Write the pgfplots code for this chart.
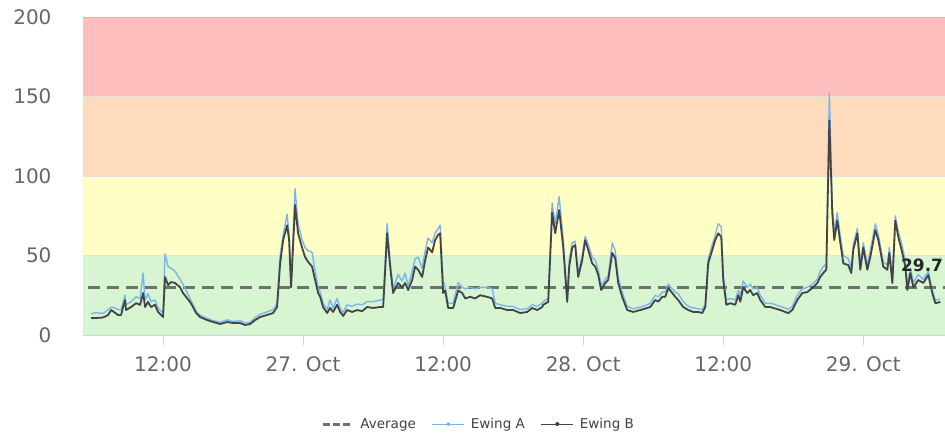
\documentclass[border=0pt]{standalone}
\usepackage{pgfplots}
\pgfplotsset{compat=1.18}
\usepackage{fontspec}
\setmainfont{DejaVu Sans}
\definecolor{bandred}{RGB}{255,190,190}
\definecolor{bandorange}{RGB}{253,219,188}
\definecolor{bandyellow}{RGB}{255,254,196}
\definecolor{bandgreen}{RGB}{214,245,208}
\definecolor{gridc}{RGB}{228,228,232}
\definecolor{topline}{RGB}{240,168,176}
\definecolor{axisc}{RGB}{204,214,235}
\definecolor{ticktext}{RGB}{102,102,102}
\definecolor{serA}{RGB}{124,181,236}
\definecolor{serB}{RGB}{67,67,72}
\definecolor{avgc}{RGB}{112,112,112}
\pgfplotsset{
  avglegend/.style={legend image code/.code={\draw[##1, dash pattern=on 7pt off 3pt] (0pt,0pt) -- (30pt,0pt);}},
  serlegend/.style={legend image code/.code={\draw[##1, line width=1pt] (0pt,0pt) -- (32pt,0pt); \fill[##1] (16pt,0pt) circle (1.3pt);}},
}
\begin{document}
\begin{tikzpicture}
\path[use as bounding box] (-83pt,-105pt) rectangle (862pt,335pt);
\begin{axis}[
  at={(0pt,0pt)}, anchor=south west,
  scale only axis, width=862pt, height=318pt,
  xmin=5.14, xmax=79, ymin=0, ymax=200,
  axis x line*=bottom, axis y line*=left,
  x axis line style={draw=axisc, line width=1pt, -},
  y axis line style={draw=none},
  xtick={12,24,36,48,60,72},
  xticklabels={12:00,27. Oct,12:00,28. Oct,12:00,29. Oct},
  ytick={0,50,100,150,200},
  tick align=outside,
  major tick length=10pt,
  xtick style={draw=axisc, line width=1pt},
  ytick style={draw=none},
  /pgf/number format/assume math mode=true,
  tick label style={font=\fontsize{20}{20}\selectfont, text=ticktext},
  yticklabel style={xshift=-18pt},
  xticklabel style={yshift=-8pt},
  legend style={at={(0.459,-0.280)}, anchor=center, draw=none, fill=none,
    font=\fontsize{13.5}{14}\selectfont, text=black!75,
    /tikz/every odd column/.append style={column sep=4pt},
    /tikz/every even column/.append style={column sep=14pt}},
  legend columns=-1,
  clip=true,
]
\fill[bandgreen] (axis cs:5.14,0) rectangle (axis cs:79,50);
\fill[bandyellow] (axis cs:5.14,50) rectangle (axis cs:79,100);
\fill[bandorange] (axis cs:5.14,100) rectangle (axis cs:79,150);
\fill[bandred] (axis cs:5.14,150) rectangle (axis cs:79,200);
\draw[gridc, line width=1pt] (axis cs:5.14,50) -- (axis cs:79,50);
\draw[gridc, line width=1pt] (axis cs:5.14,100) -- (axis cs:79,100);
\draw[gridc, line width=1pt] (axis cs:5.14,150) -- (axis cs:79,150);
\draw[topline, line width=1.5pt] (axis cs:5.14,199.6) -- (axis cs:79,199.6);

\addplot[avgc, line width=3pt, dash pattern=on 12pt off 7pt, avglegend]
  table {
5.57 29.7
79 29.7
};
\addlegendentry{Average}

\addplot[serA, line width=1.4pt, line join=round, serlegend]
  table {
5.83 13.5
6.26 14
6.86 13.5
7.29 16
7.55 17.5
7.89 17
8.14 16
8.40 16
8.74 25
8.83 19
9.26 21
9.69 24
10.03 23
10.29 39
10.46 22
10.71 26
10.97 21
11.31 22
11.57 17
11.83 15
12.0 14
12.17 51
12.43 43
12.69 42
13.03 40
13.46 35
13.71 32
13.97 28
14.31 23
14.57 19
14.83 15
15.17 12.5
15.77 10.5
16.29 9
16.89 8
17.49 9.5
18.0 8.5
18.6 9
19.03 7.5
19.46 8
19.89 11
20.31 13
20.91 14.5
21.43 16
21.77 20
22.03 50
22.29 63
22.63 76
22.8 63
22.97 31
23.31 92
23.57 70
23.91 60
24.17 55
24.43 53
24.77 52
25.03 40
25.29 30
25.46 27
25.71 20
26.06 16
26.31 22
26.57 17
26.91 23
27.17 17
27.43 14
27.77 19
28.2 18
28.63 19.5
29.06 19
29.49 21
30.0 21
30.6 22
30.86 22
31.2 70
31.46 46
31.71 29
32.14 38
32.49 34
32.74 39
33.0 31
33.34 40
33.6 48
33.86 49
34.2 42
34.46 53
34.71 61
35.06 58
35.31 64
35.57 67
35.74 69
36.0 34
36.17 30
36.43 20
36.86 20
37.29 33
37.63 30
37.89 29
38.31 30
38.74 29
39.17 30
39.77 30
40.2 29
40.46 20
40.89 19
41.49 18
42.0 18
42.6 16
43.2 16.5
43.63 19
44.06 18
44.49 20
44.57 21
45.0 23
45.34 83
45.6 70
45.94 87
46.29 60
46.63 22
46.8 47
47.06 58
47.31 59
47.57 39
47.91 50
48.17 62
48.43 57
48.77 49
49.03 47
49.29 41
49.54 31
49.89 35
50.14 37
50.49 58
50.74 53
51.0 36
51.34 27
51.77 18
52.29 16.5
52.89 17.5
53.49 19
53.74 20
54.17 25
54.43 24
54.77 27
55.03 27
55.29 32
55.63 29
55.89 27
56.14 26
56.57 21
57.0 18
57.43 17
57.86 16.5
58.2 16
58.46 19.5
58.71 48
59.06 57
59.31 63
59.57 70
59.83 68
60.0 38
60.26 22
60.6 23
61.03 22
61.29 28
61.46 25
61.71 34
62.06 30
62.31 32
62.57 29
62.91 30
63.17 25
63.6 20
64.03 20
64.29 19.5
64.89 18
65.31 17
65.57 16
65.91 18
66.34 25
66.77 29
67.2 30
67.63 32
68.06 35
68.31 40
68.57 43
68.83 45
69.09 152
69.34 82
69.51 65
69.77 77
70.03 62
70.29 50
70.71 48
70.97 42
71.14 57
71.49 67
71.74 45
72.0 58
72.34 44
72.6 53
73.03 70
73.29 63
73.71 46
74.06 44
74.23 55
74.49 36
74.74 75
75.0 65
75.34 56
75.6 46
75.77 31
76.03 42
76.29 33
76.71 38
77.14 35
77.57 40
77.91 28
78.17 22
78.6 22.5
};
\addlegendentry{Ewing A}

\addplot[serB, line width=1.8pt, line join=round, serlegend]
  table {
5.83 10.7
6.26 10.7
6.86 11
7.29 12.6
7.55 15.7
7.89 14
8.14 12.6
8.40 12.6
8.74 22
8.83 15.7
9.26 17.6
9.69 20
10.03 19
10.29 26.4
10.46 17.6
10.71 20.8
10.97 17.6
11.31 19
11.57 14.5
11.83 12.6
12.0 11.3
12.17 36.5
12.43 31.4
12.69 33.3
13.03 32.7
13.46 30
13.71 26.4
13.97 24
14.31 20.8
14.57 17.6
14.83 13.8
15.17 11.3
15.77 9.4
16.29 8.2
16.89 6.9
17.49 8.2
18.0 7.5
18.6 7.5
19.03 6.3
19.46 6.9
19.89 9.4
20.31 11.3
20.91 12.6
21.43 13.8
21.77 17.6
22.03 45
22.29 59.7
22.63 69
22.8 59.7
22.97 30
23.31 81.8
23.57 64
23.91 55
24.17 49
24.43 46
24.77 43
25.03 34.6
25.29 26.4
25.46 24
25.71 17.6
26.06 13.8
26.31 17
26.57 14.5
26.91 19
27.17 14.5
27.43 12
27.77 15.7
28.2 14.5
28.63 15.7
29.06 15
29.49 17.6
30.0 17
30.6 17.6
30.86 17.6
31.2 64
31.46 43
31.71 26.4
32.14 32.7
32.49 30
32.74 32.7
33.0 28.3
33.34 34.6
33.6 43
33.86 41
34.2 36.5
34.46 47
34.71 55
35.06 52
35.31 59.7
35.57 63
35.74 64
36.0 26.4
36.17 28
36.43 17
36.86 17
37.29 28
37.63 26.4
37.89 23
38.31 24
38.74 23
39.17 25
39.77 24
40.2 23
40.46 17
40.89 17
41.49 15.7
42.0 15.7
42.6 13.8
43.2 14.5
43.63 17
44.06 15.7
44.49 17.6
44.57 19
45.0 20.8
45.34 77
45.6 64
45.94 78.6
46.29 55
46.63 20.8
46.8 43
47.06 55
47.31 56.6
47.57 36.5
47.91 47
48.17 59.7
48.43 53.5
48.77 45
49.03 43
49.29 37.7
49.54 28.3
49.89 32.7
50.14 34.6
50.49 51.6
50.74 48.4
51.0 32.7
51.34 24
51.77 15.7
52.29 14.5
52.89 15.7
53.49 17
53.74 17.6
54.17 22
54.43 21
54.77 24
55.03 24
55.29 29.6
55.63 26.4
55.89 24
56.14 22
56.57 17.6
57.0 15.7
57.43 14.5
57.86 14.5
58.2 13.8
58.46 17.6
58.71 45
59.06 53.5
59.31 59.7
59.57 64
59.83 61.6
60.0 34.6
60.26 19
60.6 20
61.03 19
61.29 25
61.46 21
61.71 30
62.06 26.4
62.31 28.3
62.57 25
62.91 26.4
63.17 22
63.6 17.6
64.03 17.6
64.29 17
64.89 15.7
65.31 14.5
65.57 13.8
65.91 15.7
66.34 22
66.77 26.4
67.2 27
67.63 29.6
68.06 32.7
68.31 36.5
68.57 39
68.83 41
69.09 135
69.34 76.7
69.51 59.7
69.77 72
70.03 58
70.29 45
70.71 44
70.97 39
71.14 53.5
71.49 64
71.74 41
72.0 55
72.34 41
72.6 49
73.03 66
73.29 59.7
73.71 43
74.06 41
74.23 51.6
74.49 32.7
74.74 72
75.0 61.6
75.34 51.6
75.6 43
75.77 28.3
76.03 39
76.29 30
76.71 34.6
77.14 32.7
77.57 37.7
77.91 26.4
78.17 20
78.6 20.8
};
\addlegendentry{Ewing B}

\coordinate (lab) at (axis cs:78.85,44);
\end{axis}
\node[anchor=east, inner sep=0pt, text=black!85,
  font=\bfseries\fontsize{17}{17}\selectfont] at (lab) {29.7};
\end{tikzpicture}
\end{document}
